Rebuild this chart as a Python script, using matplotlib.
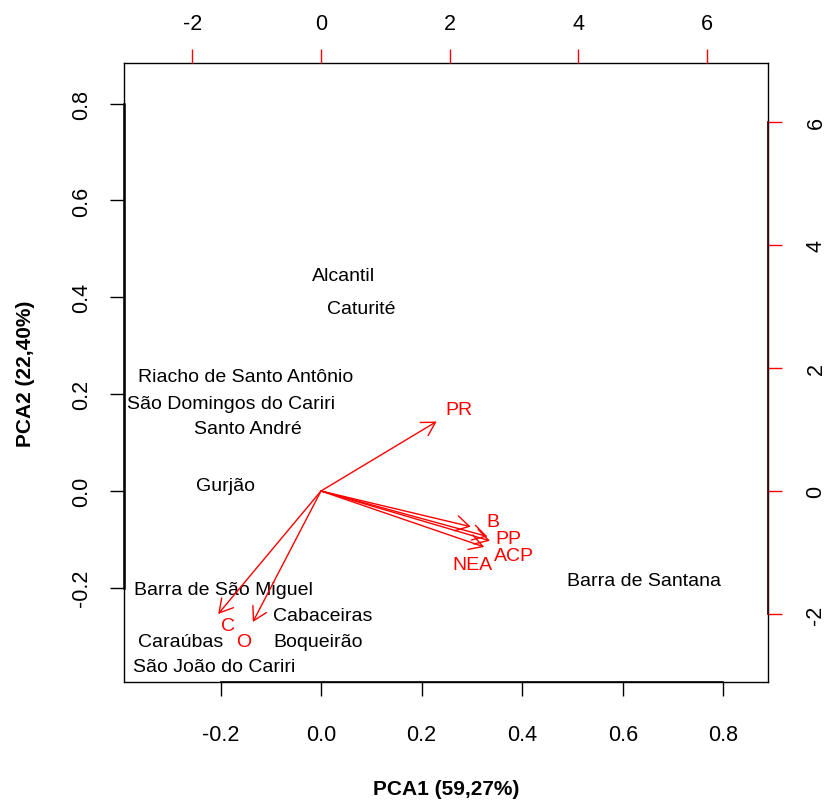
import matplotlib
matplotlib.use("Agg")
import matplotlib.pyplot as plt

plt.rcParams["font.family"] = ["Liberation Sans", "DejaVu Sans"]

# site scores (bottom / left axes)
sites = ["Alcantil", "Caturité", "Riacho de Santo Antônio", "São Domingos do Cariri",
         "Santo André", "Gurjão", "Barra de São Miguel", "Cabaceiras", "Caraúbas",
         "Boqueirão", "São João do Cariri", "Barra de Santana"]
site_pc1 = [0.044, 0.080, -0.151, -0.179, -0.145, -0.191, -0.195, 0.004, -0.280, -0.006, -0.213, 0.642]
site_pc2 = [0.444, 0.376, 0.236, 0.180, 0.128, 0.010, -0.204, -0.258, -0.312, -0.312, -0.364, -0.186]

# variable loadings (top / right axes)
variables = ["PR", "B", "PP", "ACP", "NEA", "C", "O"]
arrow_x = [1.80, 2.33, 2.59, 2.63, 2.54, -1.60, -1.06]
arrow_y = [1.13, -0.58, -0.74, -0.81, -0.91, -2.00, -2.13]
label_x = [2.15, 2.68, 2.91, 3.00, 2.35, -1.45, -1.20]
label_y = [1.32, -0.50, -0.78, -1.05, -1.20, -2.18, -2.45]

x_ticks = [-0.2, 0.0, 0.2, 0.4, 0.6, 0.8]
y_ticks = [-0.2, 0.0, 0.2, 0.4, 0.6, 0.8]
var_ticks = [-2, 0, 2, 4, 6]

FS = 14
TICK_FS = 15.5
LAB_FS = 15
fig = plt.figure(figsize=(8.29, 8.03), dpi=100)
pos = [124 / 829, 1 - 683 / 803, 644 / 829, 619 / 803]
ax = fig.add_axes(pos)
ax.set_xlim(-0.392, 0.889)
ax.set_ylim(-0.395, 0.884)

for name, x, y in zip(sites, site_pc1, site_pc2):
    ax.text(x, y, name, ha="center", va="center", fontsize=FS, color="black")

ax.set_xticks(x_ticks)
ax.set_xticklabels([f"{v:.1f}" for v in x_ticks])
ax.set_yticks(y_ticks)
ax.set_yticklabels([f"{v:.1f}" for v in y_ticks], rotation=90, va="center")
ax.tick_params(axis="x", direction="out", length=10, width=1, labelsize=TICK_FS, pad=20)
ax.tick_params(axis="y", direction="out", length=10, width=1, labelsize=TICK_FS, pad=13)
for sp in ax.spines.values():
    sp.set_linewidth(1)
    sp.set_color("black")
# axis lines (R draws them over the box)
ax.plot([ax.get_xlim()[0]] * 2, [-0.2, 0.8], color="black", lw=1.8, clip_on=False)
ax.plot([-0.2, 0.8], [ax.get_ylim()[0]] * 2, color="black", lw=1.2, clip_on=False)

ax.set_xlabel("PCA1 (59,27%)", fontsize=LAB_FS, fontweight="bold")
ax.set_ylabel("PCA2 (22,40%)", fontsize=LAB_FS, fontweight="bold")
ax.xaxis.set_label_coords(0.5, -0.157)
ax.yaxis.set_label_coords(-0.138, 0.5)

# secondary axes for the variable arrows
ax2 = fig.add_axes(pos, frameon=False)
ax2.set_xlim(-3.066, 6.957)
ax2.set_ylim(-3.106, 6.96)
ax2.xaxis.tick_top()
ax2.yaxis.tick_right()
ax2.set_xticks(var_ticks)
ax2.set_xticklabels([str(v) for v in var_ticks])
ax2.set_yticks(var_ticks)
ax2.set_yticklabels([str(v) for v in var_ticks], rotation=90, va="center")
ax2.tick_params(axis="both", direction="out", length=10, width=1, color="red", labelsize=TICK_FS)
ax2.tick_params(axis="x", pad=11)
ax2.tick_params(axis="y", pad=17)
ax2.plot([ax2.get_xlim()[1]] * 2, [-2, 6], color="#3a0a0a", lw=1.3, clip_on=False)

for name, tx, ty, lx, ly in zip(variables, arrow_x, arrow_y, label_x, label_y):
    ax2.annotate("", xy=(tx, ty), xytext=(0, 0),
                 arrowprops=dict(arrowstyle="->, head_length=0.475, head_width=0.275",
                                 color="red", lw=1, mutation_scale=20,
                                 shrinkA=0, shrinkB=0))
    ax2.text(lx, ly, name, ha="center", va="center", fontsize=FS, color="red")

plt.savefig("out.png", dpi=100)
plt.close()
